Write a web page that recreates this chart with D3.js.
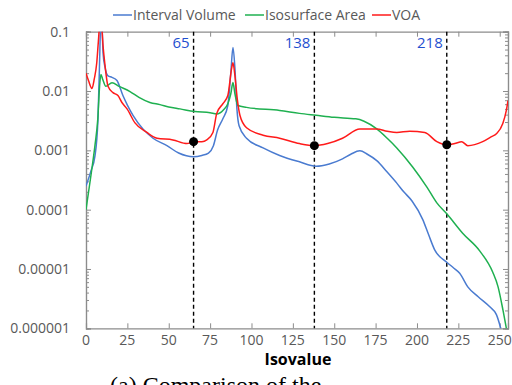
<!DOCTYPE html>
<html>
<head>
<meta charset="utf-8">
<script src="https://cdn.jsdelivr.net/npm/d3@7"></script>
<style>
  body { margin: 0; background: #fff; }
  svg { display: block; font-family: "Open Sans", sans-serif; }
</style>
</head>
<body>
<div class="chart"></div>
<script>
const width = 512;
const height = 385;

// isovalue / value pairs
const ivX = [0, 3, 5.4, 7.2, 8.2, 8.8, 9.5, 10.3, 11.5, 13.3, 15.7, 18.7, 22.3, 25, 28.4, 34.4, 40.5, 48.9, 56, 65, 70, 74, 77, 79.5, 82.7, 85.7, 87.5, 88.8, 90, 91.2, 92.5, 97, 107, 117, 129, 139, 147, 155, 160, 165.5, 170, 175.7, 182, 187.8, 192, 197, 203.5, 207, 210.7, 218, 222, 225.8, 230.7, 237, 244, 248, 250.6, 252];
const ivY = [2.5e-4, 4.5e-4, 8e-4, 3.2e-3, 0.03, 0.12, 0.15, 0.044, 0.025, 0.018, 0.017, 0.015, 0.0084, 0.0058, 0.0039, 0.0023, 0.0016, 0.0012, 9e-4, 7.8e-4, 8.2e-4, 9e-4, 1.2e-3, 2.2e-3, 3.4e-3, 5.7e-3, 0.02, 0.054, 0.024, 0.005, 0.0026, 0.0016, 0.0011, 8.2e-4, 6.4e-4, 5.4e-4, 5.9e-4, 7.2e-4, 8.6e-4, 9.8e-4, 8.6e-4, 6.7e-4, 4.3e-4, 2.8e-4, 2e-4, 1.4e-4, 6.8e-5, 3.8e-5, 2.1e-5, 1.3e-5, 1.05e-5, 8.5e-6, 5e-6, 3.4e-6, 2.3e-6, 1.7e-6, 1e-6, 7e-7];

const isoX = [0, 3, 5.4, 7.2, 8.2, 9, 10, 12, 15.7, 20, 26.6, 32, 38.6, 44.7, 50, 56.8, 65.8, 75, 79, 83, 85.7, 87.5, 88.8, 90, 91.8, 97, 117, 129, 139, 150, 163, 168, 175.7, 182, 187.8, 197.5, 206, 212, 218, 227.6, 238, 245.8, 249, 252, 254, 255];
const isoY = [1e-4, 3.8e-4, 1.2e-3, 3.6e-3, 0.012, 0.019, 0.016, 0.012, 0.0138, 0.012, 0.0098, 0.0078, 0.0064, 0.0059, 0.0054, 0.005, 0.0045, 0.0043, 0.0041, 0.0048, 0.0061, 0.009, 0.0139, 0.009, 0.0057, 0.0053, 0.0047, 0.0042, 0.0039, 0.0036, 0.0034, 0.0031, 0.0023, 0.0016, 0.0011, 5.2e-4, 2.4e-4, 1.3e-4, 8.5e-5, 4e-5, 2e-5, 8.8e-6, 5e-6, 2e-6, 1e-6, 7e-7];

const voaX = [0, 1.5, 3.6, 5, 6.5, 7.5, 8.5, 9.5, 10.3, 11.5, 13.3, 16.3, 19.3, 21.7, 24.8, 29.6, 36.8, 42.9, 52.5, 61, 65, 70, 73, 76.7, 79, 82.7, 85.7, 88, 88.8, 90, 91.5, 93, 97, 107, 117, 129, 138, 146, 155, 165.5, 175.7, 182, 187.8, 195.6, 204.7, 212, 218, 222.8, 227, 230.7, 239.7, 245, 248, 251.8, 254, 255];
const voaY = [0.02, 0.015, 0.011, 0.016, 0.03, 0.07, 0.15, 0.12, 0.058, 0.027, 0.012, 0.0094, 0.0084, 0.0064, 0.005, 0.0029, 0.002, 0.0016, 0.0015, 0.0013, 0.0014, 0.0014, 0.0015, 0.002, 0.0042, 0.0061, 0.0084, 0.024, 0.03, 0.018, 0.007, 0.0039, 0.0024, 0.0018, 0.0016, 0.0013, 0.0012, 0.0013, 0.0016, 0.0023, 0.0023, 0.0021, 0.002, 0.0021, 0.002, 0.0014, 0.00124, 0.0013, 0.0014, 0.0012, 0.0014, 0.0017, 0.0019, 0.0028, 0.0047, 0.0069];

const markIso = [65, 138, 218];
const markVal = [0.0014, 0.0012, 0.00124];

const xTicks = [0, 25, 50, 75, 100, 125, 150, 175, 200, 225, 250];
const yTicks = [0.1, 0.01, 0.001, 0.0001, 0.00001, 0.000001];
const yLabels = ['0.1', '0.01', '0.001', '0.0001', '0.00001', '0.000001'];

const seriesNames = ['Interval Volume', 'Isosurface Area', 'VOA'];
const seriesColors = ['#4a7bd0', '#1fb050', '#ff1a1a'];

const svg = d3.select('.chart').append('svg')
    .attr('width', width)
    .attr('height', height);

const x = d3.scaleLinear().domain([0, 255]).range([86, 508]);
const y = d3.scaleLog().domain([1e-6, 0.1]).range([328.3, 31.7]);

const axisColor = '#8c8c8c';
const labelColor = '#595959';

// minor log ticks
const minor = [];
yTicks.slice(1).forEach(d => {
    for (let k = 2; k <= 9; k++) minor.push(d * k);
});

/* clip for the curves */
svg.append('clipPath').attr('id', 'plot')
    .append('rect')
    .attr('x', x(0)).attr('y', y(0.1))
    .attr('width', x(255) - x(0)).attr('height', y(1e-6) - y(0.1));

/* left axis */
const left = svg.append('g')
    .attr('transform', `translate(${x(0)},0)`)
    .call(d3.axisRight(y).tickValues(yTicks).tickSize(5).tickFormat(''));
left.append('g').call(d3.axisRight(y).tickValues(minor).tickSize(3).tickFormat(''));
/* right axis */
const right = svg.append('g')
    .attr('transform', `translate(${x(255)},0)`)
    .call(d3.axisLeft(y).tickValues(yTicks).tickSize(5).tickFormat(''));
right.append('g').call(d3.axisLeft(y).tickValues(minor).tickSize(3).tickFormat(''));
/* bottom + top axis */
svg.append('g')
    .attr('transform', `translate(0,${y(1e-6)})`)
    .call(d3.axisTop(x).tickValues(xTicks).tickSize(5).tickFormat(''));
svg.append('g')
    .attr('transform', `translate(0,${y(0.1)})`)
    .call(d3.axisBottom(x).tickValues(xTicks).tickSize(5).tickFormat(''));

svg.selectAll('.domain').attr('stroke', axisColor).attr('stroke-width', 1.2);
svg.selectAll('.tick line').attr('stroke', axisColor);

/* tick labels */
svg.selectAll('.ylab')
    .data(yTicks)
    .enter().append('text')
    .attr('x', 70)
    .attr('y', d => y(d) + 5)
    .attr('text-anchor', 'end')
    .attr('font-size', 14)
    .attr('fill', labelColor)
    .text((d, i) => yLabels[i]);
svg.selectAll('.xlab')
    .data(xTicks)
    .enter().append('text')
    .attr('x', d => x(d))
    .attr('y', 345)
    .attr('text-anchor', 'middle')
    .attr('font-size', 14)
    .attr('fill', labelColor)
    .text(d => d);

/* dashed markers */
svg.selectAll('.mark')
    .data(markIso)
    .enter().append('line')
    .attr('x1', d => x(d)).attr('x2', d => x(d))
    .attr('y1', y(0.1)).attr('y2', y(1e-6))
    .attr('stroke', '#000')
    .attr('stroke-width', 1.4)
    .attr('stroke-dasharray', '4,3');
svg.selectAll('.markLab')
    .data(markIso)
    .enter().append('text')
    .attr('x', d => x(d) - 4)
    .attr('y', 48)
    .attr('text-anchor', 'end')
    .attr('font-size', 15)
    .attr('fill', '#1f4fd0')
    .text(d => d);

/* curves */
const line = d3.line()
    .x(d => x(d[0]))
    .y(d => y(d[1]))
    .curve(d3.curveMonotoneX);
const series = [
    d3.zip(ivX, ivY),
    d3.zip(isoX, isoY),
    d3.zip(voaX, voaY)
];
svg.append('g').attr('clip-path', 'url(#plot)')
    .selectAll('path')
    .data(series)
    .enter().append('path')
    .attr('d', line)
    .attr('fill', 'none')
    .attr('stroke', (d, i) => seriesColors[i])
    .attr('stroke-width', 1.5);

/* dots on VOA minima */
svg.selectAll('.dot')
    .data(markIso)
    .enter().append('circle')
    .attr('cx', d => x(d))
    .attr('cy', (d, i) => y(markVal[i]))
    .attr('r', 4.5)
    .attr('fill', '#000');

/* legend */
const legX = [113, 245, 372];
const leg = svg.selectAll('.leg')
    .data(seriesNames)
    .enter().append('g')
    .attr('transform', (d, i) => `translate(${legX[i]},15)`);
leg.append('line')
    .attr('x1', 0).attr('x2', 19)
    .attr('stroke', (d, i) => seriesColors[i])
    .attr('stroke-width', 1.5);
leg.append('text')
    .attr('x', 20).attr('y', 5)
    .attr('font-size', 14)
    .attr('fill', labelColor)
    .text(d => d);

/* axis title and caption */
svg.append('text')
    .attr('x', 298).attr('y', 365)
    .attr('text-anchor', 'middle')
    .attr('font-size', 16)
    .attr('font-weight', 'bold')
    .attr('fill', '#000')
    .text('Isovalue');
svg.append('text')
    .attr('x', 110).attr('y', 393)
    .attr('font-family', '"Liberation Serif", serif')
    .attr('font-size', 24)
    .attr('fill', '#000')
    .text('(a) Comparison of the');
</script>
</body>
</html>
